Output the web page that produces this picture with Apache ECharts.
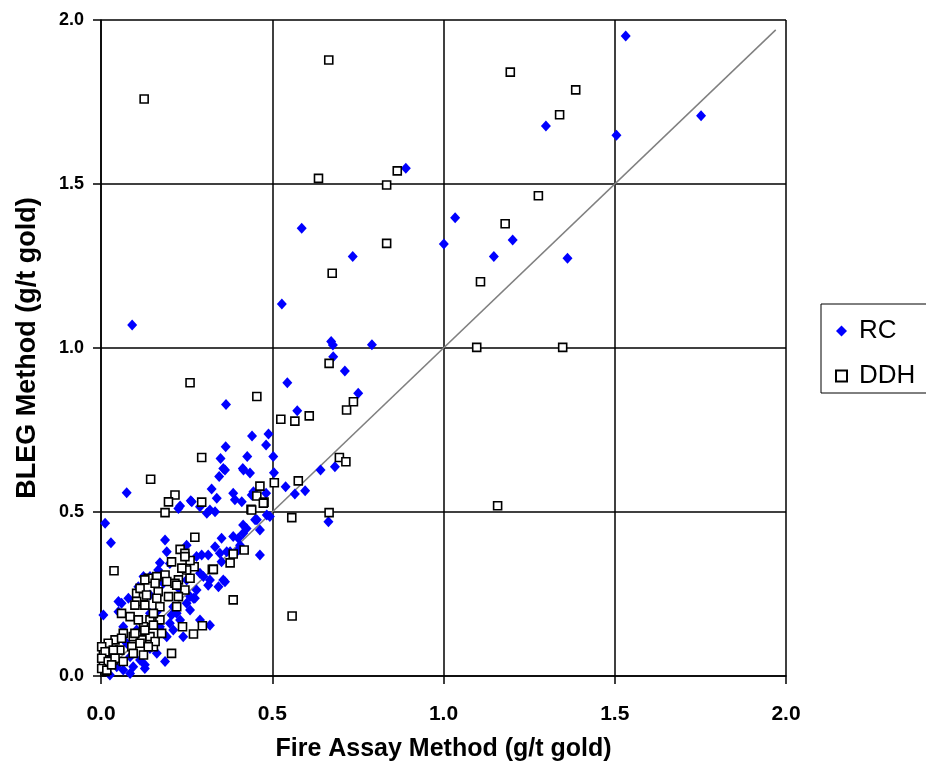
<!DOCTYPE html>
<html>
<head>
<meta charset="utf-8">
<script src="https://cdn.jsdelivr.net/npm/echarts@6/dist/echarts.min.js"></script>
<style>html,body{margin:0;padding:0;background:#fff}#c{width:926px;height:771px}</style>
</head>
<body>
<div id="c"></div>
<script>
const xTickLabels = ['0.0', '0.5', '1.0', '1.5', '2.0'];
const yTickLabels = ['0.0', '0.5', '1.0', '1.5', '2.0'];
const seriesNames = ['RC', 'DDH'];
const xTitle = 'Fire Assay Method (g/t gold)';
const yTitle = 'BLEG Method (g/t gold)';
const oneToOneLine = [[0, 0], [1.97, 1.97]];

const rcData = [
[1.532,1.951],[1.752,1.708],[1.299,1.677],[1.505,1.649],[0.890,1.548],[1.034,1.397],[1.001,1.317],[1.202,1.329],[1.147,1.279],[1.362,1.274],
[0.586,1.365],[0.735,1.279],[0.528,1.134],[0.091,1.070],[0.791,1.010],[0.672,1.020],[0.677,1.009],[0.678,0.973],[0.712,0.930],[0.544,0.894],
[0.751,0.862],[0.365,0.828],[0.573,0.809],[0.441,0.732],[0.489,0.738],[0.482,0.704],[0.364,0.699],[0.503,0.669],[0.427,0.669],[0.349,0.663],
[0.357,0.633],[0.345,0.608],[0.414,0.633],[0.435,0.619],[0.505,0.620],[0.641,0.628],[0.683,0.638],[0.539,0.577],[0.566,0.555],[0.596,0.565],
[0.323,0.570],[0.338,0.542],[0.386,0.557],[0.391,0.537],[0.411,0.531],[0.440,0.552],[0.482,0.557],[0.318,0.506],[0.333,0.501],[0.265,0.531],
[0.484,0.491],[0.664,0.470],[0.415,0.460],[0.450,0.476],[0.362,0.628],[0.416,0.628],[0.445,0.562],[0.262,0.534],[0.231,0.518],[0.289,0.516],
[0.226,0.511],[0.309,0.496],[0.455,0.476],[0.425,0.450],[0.415,0.435],[0.464,0.445],[0.493,0.486],[0.401,0.420],[0.075,0.559],[0.012,0.466],
[0.029,0.406],[0.187,0.415],[0.192,0.379],[0.172,0.345],[0.250,0.399],[0.294,0.369],[0.143,0.303],[0.109,0.272],[0.080,0.237],[0.051,0.227],
[0.231,0.262],[0.274,0.237],[0.007,0.186],[0.182,0.130],[0.187,0.044],[0.128,0.023],[0.333,0.394],[0.313,0.369],[0.367,0.379],[0.401,0.384],
[0.464,0.369],[0.352,0.348],[0.299,0.303],[0.362,0.287],[0.313,0.277],[0.270,0.237],[0.250,0.222],[0.318,0.155],[0.279,0.364],[0.347,0.374],
[0.377,0.379],[0.406,0.399],[0.352,0.420],[0.386,0.425],[0.060,0.222],[0.114,0.262],[0.124,0.303],[0.167,0.323],[0.201,0.343],[0.211,0.211],
[0.206,0.186],[0.192,0.120],[0.260,0.201],[0.231,0.171],[0.201,0.161],[0.279,0.262],[0.250,0.293],[0.289,0.313],[0.318,0.293],[0.260,0.242],
[0.163,0.069],[0.114,0.049],[0.065,0.018],[0.085,0.008],[0.026,0.003],[0.046,0.028],[0.094,0.028],[0.128,0.034],[0.085,0.059],[0.026,0.069],
[0.005,0.028],[0.163,0.196],[0.143,0.191],[0.104,0.140],[0.065,0.150],[0.051,0.196],[0.075,0.100],[0.143,0.084],[0.211,0.140],[0.240,0.120],
[0.172,0.150],[0.221,0.191],[0.289,0.171],[0.182,0.283],[0.143,0.247],[0.357,0.293],[0.343,0.272]
];

const ddhData = [
[0.126,1.759],[0.665,1.878],[0.635,1.517],[0.675,1.228],[1.195,1.841],[1.386,1.787],[1.339,1.711],[0.865,1.540],[0.834,1.497],[1.277,1.464],
[1.180,1.379],[0.834,1.319],[1.108,1.202],[1.097,1.002],[1.348,1.002],[1.158,0.519],[0.260,0.894],[0.455,0.852],[0.666,0.953],[0.737,0.836],
[0.717,0.811],[0.525,0.783],[0.566,0.777],[0.608,0.793],[0.294,0.666],[0.696,0.666],[0.715,0.653],[0.464,0.579],[0.506,0.589],[0.576,0.595],
[0.455,0.549],[0.476,0.530],[0.294,0.530],[0.438,0.508],[0.557,0.483],[0.666,0.498],[0.145,0.600],[0.558,0.183],[0.386,0.232],[0.274,0.423],
[0.418,0.384],[0.386,0.372],[0.377,0.345],[0.325,0.325],[0.272,0.333],[0.260,0.352],[0.250,0.323],[0.260,0.298],[0.245,0.262],[0.440,0.506],
[0.474,0.527],[0.216,0.552],[0.197,0.531],[0.187,0.498],[0.038,0.321],[0.231,0.386],[0.245,0.374],[0.206,0.348],[0.236,0.329],[0.226,0.293],
[0.187,0.308],[0.163,0.303],[0.138,0.298],[0.128,0.293],[0.158,0.283],[0.192,0.288],[0.216,0.283],[0.197,0.242],[0.167,0.257],[0.104,0.252],
[0.124,0.242],[0.163,0.237],[0.238,0.150],[0.270,0.128],[0.296,0.153],[0.206,0.069],[0.328,0.325],[0.114,0.267],[0.133,0.247],[0.221,0.277],
[0.226,0.242],[0.104,0.227],[0.128,0.216],[0.172,0.211],[0.060,0.191],[0.085,0.181],[0.143,0.171],[0.172,0.171],[0.124,0.150],[0.153,0.155],
[0.065,0.130],[0.094,0.120],[0.041,0.110],[0.119,0.110],[0.143,0.120],[0.017,0.089],[0.055,0.079],[0.090,0.089],[0.007,0.069],[0.036,0.049],
[0.007,0.034],[0.065,0.044],[0.012,0.013],[0.153,0.089],[0.124,0.064],[0.099,0.216],[0.221,0.211],[0.153,0.191],[0.109,0.171],[0.128,0.140],
[0.099,0.130],[0.060,0.115],[0.021,0.100],[0.002,0.089],[0.012,0.074],[0.036,0.079],[0.114,0.100],[0.158,0.105],[0.138,0.089],[0.002,0.054],
[0.021,0.044],[0.041,0.054],[0.002,0.023],[0.017,0.018],[0.031,0.034],[0.094,0.069],[0.177,0.130],[0.245,0.364]
];

const chart = echarts.init(document.getElementById('c'), null, {renderer: 'canvas'});
const fontFam = '"Liberation Sans", Arial, sans-serif';
function fmt(labels) { return v => labels[Math.round(v / 0.5)]; }

chart.setOption({
  animation: false,
  backgroundColor: '#fff',
  grid: {left: 101, right: 140, top: 20, bottom: 95, containLabel: false},
  xAxis: {
    type: 'value', min: 0, max: 2, interval: 0.5,
    name: xTitle, nameLocation: 'middle', nameGap: 61,
    nameTextStyle: {fontFamily: fontFam, fontWeight: 'bold', fontSize: 25, color: '#000'},
    axisLine: {show: true, lineStyle: {color: '#000', width: 1.5}},
    axisTick: {show: true, length: 8, lineStyle: {color: '#000', width: 1.5}},
    axisLabel: {formatter: fmt(xTickLabels), fontFamily: fontFam, fontWeight: 'bold', fontSize: 21, color: '#000', margin: 28},
    splitLine: {show: true, lineStyle: {color: '#000', width: 1.5}}
  },
  yAxis: {
    type: 'value', min: 0, max: 2, interval: 0.5,
    name: yTitle, nameLocation: 'middle', nameGap: 60, nameRotate: 90,
    nameTextStyle: {fontFamily: fontFam, fontWeight: 'bold', fontSize: 27, color: '#000'},
    axisLine: {show: true, lineStyle: {color: '#000', width: 1.5}},
    axisTick: {show: true, length: 8, lineStyle: {color: '#000', width: 1.5}},
    axisLabel: {formatter: fmt(yTickLabels), fontFamily: fontFam, fontWeight: 'bold', fontSize: 18, color: '#000', margin: 17},
    splitLine: {show: true, lineStyle: {color: '#000', width: 1.5}}
  },
  legend: {
    orient: 'vertical', left: 821, top: 304,
    padding: [14, 60, 4, 14], itemGap: 19,
    itemWidth: 11, itemHeight: 11,
    borderColor: '#000', borderWidth: 1,
    data: seriesNames,
    textStyle: {fontFamily: fontFam, fontSize: 26, color: '#000', lineHeight: 24, padding: [0, 0, 0, 7]}
  },
  series: [
    {
      name: seriesNames[0], type: 'scatter', data: rcData,
      symbol: 'diamond', symbolSize: [10, 11],
      itemStyle: {color: '#0000ff', opacity: 1}, z: 3
    },
    {
      name: seriesNames[1], type: 'scatter', data: ddhData,
      symbol: 'rect', symbolSize: 8,
      itemStyle: {color: '#ffffff', borderColor: '#000', borderWidth: 1.6, opacity: 1}, z: 4
    },
    {
      name: '1:1', type: 'line', data: oneToOneLine, symbol: 'none',
      lineStyle: {color: '#808080', width: 1.5}, z: 2, silent: true
    }
  ]
});
</script>
</body>
</html>
